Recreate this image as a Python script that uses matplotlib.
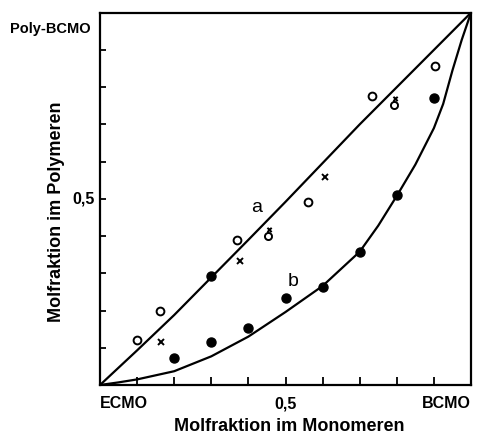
import numpy as np
import matplotlib
matplotlib.use("Agg")
import matplotlib.pyplot as plt
from matplotlib.path import Path

plt.rcParams['font.family'] = ['Liberation Sans', 'DejaVu Sans']

# curve a (nearly ideal copolymerisation)
curve_a_x = [0.0, 0.1, 0.2, 0.3, 0.4, 0.5, 0.6, 0.7, 0.8, 0.9, 1.0]
curve_a_y = [0.0, 0.093, 0.188, 0.289, 0.390, 0.492, 0.596, 0.700, 0.800, 0.900, 1.0]

# curve b
curve_b_x = [0.0, 0.05, 0.1, 0.2, 0.3, 0.4, 0.5, 0.6, 0.7, 0.75, 0.8, 0.85, 0.9, 0.925, 0.95, 0.975, 1.0]
curve_b_y = [0.0, 0.007, 0.015, 0.037, 0.077, 0.130, 0.196, 0.266, 0.358, 0.428, 0.508, 0.592, 0.690, 0.755, 0.845, 0.927, 1.0]

# measured points
filled_x = [0.2, 0.3, 0.3, 0.4, 0.5, 0.6, 0.7, 0.8, 0.9]
filled_y = [0.073, 0.294, 0.116, 0.152, 0.233, 0.264, 0.357, 0.511, 0.771]

open_x = [0.099, 0.162, 0.368, 0.561, 0.732, 0.903]
open_y = [0.120, 0.199, 0.390, 0.492, 0.776, 0.856]

crossed_x = [0.453, 0.793]
crossed_y = [0.399, 0.751]

cross_x = [0.164, 0.376, 0.606]
cross_y = [0.116, 0.333, 0.559]

x_ticks = [0.1, 0.2, 0.3, 0.4, 0.5, 0.6, 0.7, 0.8, 0.9]
y_ticks = [0.1, 0.2, 0.3, 0.4, 0.5, 0.6, 0.7, 0.8, 0.9]


def crossed_circle_marker():
    # open circle with a small x sitting above it
    t = np.linspace(0, 2 * np.pi, 40)
    verts = list(zip(np.cos(t), np.sin(t)))
    codes = [Path.MOVETO] + [Path.LINETO] * (len(verts) - 1)
    cx, cy, s = 0.3, 1.85, 0.6
    verts += [(cx - s, cy - s), (cx + s, cy + s), (cx - s, cy + s), (cx + s, cy - s)]
    codes += [Path.MOVETO, Path.LINETO, Path.MOVETO, Path.LINETO]
    return Path(verts, codes)


fig = plt.figure(figsize=(4.79, 4.36), dpi=100)
ax = fig.add_axes([0.2088, 0.1170, 0.7745, 0.8539])

ax.plot(curve_a_x, curve_a_y, color='black', lw=1.6)
ax.plot(curve_b_x, curve_b_y, color='black', lw=1.6)

ax.plot(filled_x, filled_y, 'o', color='black', ms=6.5, ls='none')
ax.plot(open_x, open_y, 'o', mfc='white', mec='black', mew=1.4, ms=5.6, ls='none')
ax.plot(cross_x, cross_y, 'x', color='black', mew=1.4, ms=4.5, ls='none')
ax.plot(crossed_x, crossed_y, marker=crossed_circle_marker(), mfc='none',
        mec='black', mew=1.4, ms=12.5, ls='none')

ax.text(0.423, 0.476, 'a', fontsize=14, ha='center', va='center')
ax.text(0.520, 0.277, 'b', fontsize=14, ha='center', va='center')

ax.set_xlim(0, 1)
ax.set_ylim(0, 1)
ax.set_xticks(x_ticks)
ax.set_yticks(y_ticks)
ax.set_xticklabels([])
ax.set_yticklabels([])
ax.tick_params(axis='x', direction='in', length=5.5, width=1.3)
ax.tick_params(axis='y', direction='in', length=4, width=1.3)
for sp in ax.spines.values():
    sp.set_linewidth(1.6)

bold = dict(fontsize=11.5, fontweight='bold')
ax.text(0.0, -0.05, 'ECMO', ha='left', va='center', **bold)
ax.text(0.5, -0.05, '0,5', ha='center', va='center', **bold)
ax.text(1.0, -0.05, 'BCMO', ha='right', va='center', **bold)
ax.text(-0.015, 0.5, '0,5', ha='right', va='center', **bold)
ax.text(-0.025, 0.955, 'Poly-BCMO', ha='right', va='center', fontsize=10.5, fontweight='bold')

fig.text(0.604, 0.021, 'Molfraktion im Monomeren', ha='center', va='center',
         fontsize=13, fontweight='bold')
fig.text(0.117, 0.514, 'Molfraktion im Polymeren', ha='center', va='center',
         rotation=90, fontsize=13, fontweight='bold')

fig.savefig('out.png', dpi=100)
